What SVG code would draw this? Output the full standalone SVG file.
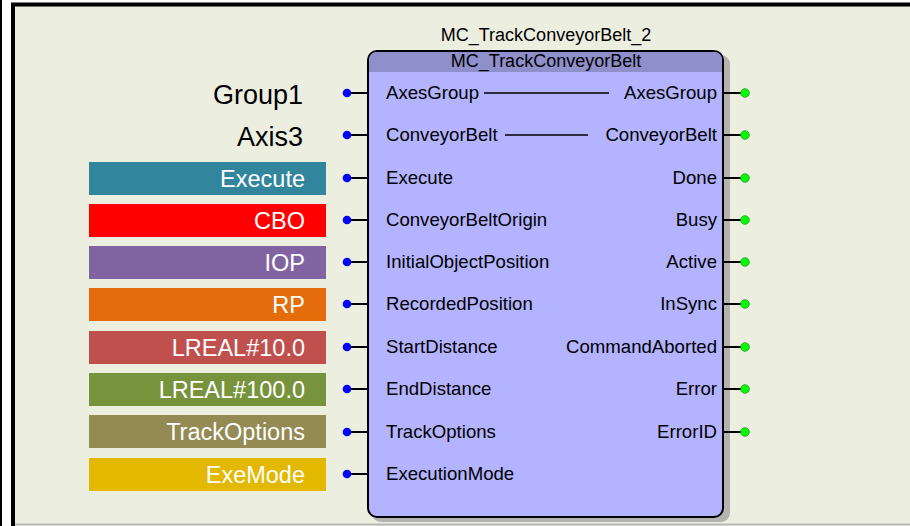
<svg xmlns="http://www.w3.org/2000/svg" width="910" height="526" viewBox="0 0 910 526">
<defs>
<style>
.pin{font-family:"Liberation Sans",Arial,sans-serif;font-size:18.6px;fill:#000}
.out{text-anchor:end}
.var{font-family:"Liberation Sans",Arial,sans-serif;font-size:23.5px;fill:#fff;text-anchor:end}
.name{font-family:"Liberation Sans",Arial,sans-serif;font-size:27px;fill:#000;text-anchor:end}
.wire{stroke:#000;stroke-width:2}
.in{fill:#0000ff}
.ok{fill:#00ff00;stroke:#2a9a2a;stroke-width:0.8}
</style>
</defs>
<rect x="0" y="0" width="910" height="526" fill="#ffffff"/>
<rect x="13" y="5" width="897" height="521" fill="#ECEEE0"/>
<line x1="1" y1="0" x2="1" y2="526" stroke="#000" stroke-width="2"/>
<path d="M13 526 V4.5 H910" fill="none" stroke="#000" stroke-width="4"/>
<line x1="15" y1="524.5" x2="910" y2="524.5" stroke="#b8b8b8" stroke-width="2"/>

<g id="block">
<text x="546" y="41" text-anchor="middle" font-family="Liberation Sans,Arial,sans-serif" font-size="18" fill="#000">MC_TrackConveyorBelt_2</text>
<rect x="372" y="55" width="358" height="467" rx="9" fill="#9a9a9a" opacity="0.7"/>
<rect x="368" y="51" width="355" height="466" rx="9" fill="#B3B3FF" stroke="#000" stroke-width="2"/>
<path d="M369 72 V60 a8 8 0 0 1 8 -8 H714 a8 8 0 0 1 8 8 V72 Z" fill="#8F8FCC"/>
<text x="546" y="67" text-anchor="middle" font-family="Liberation Sans,Arial,sans-serif" font-size="18" fill="#000">MC_TrackConveyorBelt</text>
</g>

<g id="connectors">
<line class="wire" x1="347" y1="93" x2="368" y2="93"/>
<line class="wire" x1="347" y1="135" x2="368" y2="135"/>
<line class="wire" x1="347" y1="178" x2="368" y2="178"/>
<line class="wire" x1="347" y1="220" x2="368" y2="220"/>
<line class="wire" x1="347" y1="262" x2="368" y2="262"/>
<line class="wire" x1="347" y1="304" x2="368" y2="304"/>
<line class="wire" x1="347" y1="347" x2="368" y2="347"/>
<line class="wire" x1="347" y1="389" x2="368" y2="389"/>
<line class="wire" x1="347" y1="432" x2="368" y2="432"/>
<line class="wire" x1="347" y1="474" x2="368" y2="474"/>
<line class="wire" x1="723" y1="93" x2="744" y2="93"/>
<line class="wire" x1="723" y1="135" x2="744" y2="135"/>
<line class="wire" x1="723" y1="178" x2="744" y2="178"/>
<line class="wire" x1="723" y1="220" x2="744" y2="220"/>
<line class="wire" x1="723" y1="262" x2="744" y2="262"/>
<line class="wire" x1="723" y1="304" x2="744" y2="304"/>
<line class="wire" x1="723" y1="347" x2="744" y2="347"/>
<line class="wire" x1="723" y1="389" x2="744" y2="389"/>
<line class="wire" x1="723" y1="432" x2="744" y2="432"/>
<line x1="484" y1="93" x2="609" y2="93" stroke="#000" stroke-width="1.5"/>
<line x1="505" y1="135" x2="588" y2="135" stroke="#000" stroke-width="1.5"/>
<circle class="in" cx="347" cy="93" r="4.3"/>
<circle class="in" cx="347" cy="135" r="4.3"/>
<circle class="in" cx="347" cy="178" r="4.3"/>
<circle class="in" cx="347" cy="220" r="4.3"/>
<circle class="in" cx="347" cy="262" r="4.3"/>
<circle class="in" cx="347" cy="304" r="4.3"/>
<circle class="in" cx="347" cy="347" r="4.3"/>
<circle class="in" cx="347" cy="389" r="4.3"/>
<circle class="in" cx="347" cy="432" r="4.3"/>
<circle class="in" cx="347" cy="474" r="4.3"/>
<circle class="ok" cx="745" cy="93" r="4.3"/>
<circle class="ok" cx="745" cy="135" r="4.3"/>
<circle class="ok" cx="745" cy="178" r="4.3"/>
<circle class="ok" cx="745" cy="220" r="4.3"/>
<circle class="ok" cx="745" cy="262" r="4.3"/>
<circle class="ok" cx="745" cy="304" r="4.3"/>
<circle class="ok" cx="745" cy="347" r="4.3"/>
<circle class="ok" cx="745" cy="389" r="4.3"/>
<circle class="ok" cx="745" cy="432" r="4.3"/>
</g>

<g id="pins-in">
<text class="pin" x="386" y="99">AxesGroup</text>
<text class="pin" x="386" y="141">ConveyorBelt</text>
<text class="pin" x="386" y="184">Execute</text>
<text class="pin" x="386" y="226">ConveyorBeltOrigin</text>
<text class="pin" x="386" y="268">InitialObjectPosition</text>
<text class="pin" x="386" y="310">RecordedPosition</text>
<text class="pin" x="386" y="353">StartDistance</text>
<text class="pin" x="386" y="395">EndDistance</text>
<text class="pin" x="386" y="438">TrackOptions</text>
<text class="pin" x="386" y="480">ExecutionMode</text>
</g>
<g id="pins-out">
<text class="pin out" x="717" y="99">AxesGroup</text>
<text class="pin out" x="717" y="141">ConveyorBelt</text>
<text class="pin out" x="717" y="184">Done</text>
<text class="pin out" x="717" y="226">Busy</text>
<text class="pin out" x="717" y="268">Active</text>
<text class="pin out" x="717" y="310">InSync</text>
<text class="pin out" x="717" y="353">CommandAborted</text>
<text class="pin out" x="717" y="395">Error</text>
<text class="pin out" x="717" y="438">ErrorID</text>
</g>

<g id="var-group1"><text class="name" x="303" y="104">Group1</text></g>
<g id="var-axis3"><text class="name" x="303" y="146">Axis3</text></g>
<g id="var-execute"><rect x="89" y="162" width="237" height="33" fill="#31859C"/><text class="var" x="305" y="187">Execute</text></g>
<g id="var-cbo"><rect x="89" y="204" width="237" height="33" fill="#FF0000"/><text class="var" x="305" y="229">CBO</text></g>
<g id="var-iop"><rect x="89" y="246" width="237" height="33" fill="#8064A2"/><text class="var" x="305" y="271">IOP</text></g>
<g id="var-rp"><rect x="89" y="288" width="237" height="33" fill="#E46C0A"/><text class="var" x="305" y="313">RP</text></g>
<g id="var-start"><rect x="89" y="331" width="237" height="33" fill="#C0504D"/><text class="var" x="305" y="356">LREAL#10.0</text></g>
<g id="var-end"><rect x="89" y="373" width="237" height="33" fill="#77933C"/><text class="var" x="305" y="398">LREAL#100.0</text></g>
<g id="var-track"><rect x="89" y="415" width="237" height="33" fill="#948A54"/><text class="var" x="305" y="440">TrackOptions</text></g>
<g id="var-exe"><rect x="89" y="458" width="237" height="33" fill="#E3B800"/><text class="var" x="305" y="483">ExeMode</text></g>
</svg>
